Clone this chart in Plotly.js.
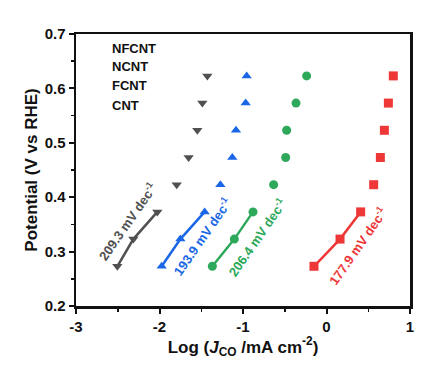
<!DOCTYPE html>
<html>
<head>
<meta charset="utf-8">
<script src="https://cdn.plot.ly/plotly-3.0.1.min.js"></script>
<style>html,body{margin:0;padding:0;background:#fff;}#chart{width:447px;height:370px;}</style>
</head>
<body>
<div id="chart"></div>
<script>
const potential = [0.273, 0.323, 0.373, 0.423, 0.473, 0.523, 0.573, 0.623];
const seriesNames = ["CNT", "FCNT", "NCNT", "NFCNT"];
const logJ_CNT   = [-2.505, -2.313, -2.026, -1.794, -1.651, -1.547, -1.487, -1.427];
const logJ_FCNT  = [-1.974, -1.750, -1.459, -1.271, -1.128, -1.084, -0.968, -0.956];
const logJ_NCNT  = [-1.367, -1.104, -0.880, -0.633, -0.489, -0.477, -0.365, -0.238];
const logJ_NFCNT = [-0.150, 0.162, 0.409, 0.565, 0.645, 0.693, 0.741, 0.800];
const tafelSlopes = ["209.3", "193.9", "206.4", "177.9"];
const legendLabels = ["NFCNT", "NCNT", "FCNT", "CNT"];
const fitPoints = 3;

const colors = ["#505050", "#1a66e6", "#2ea85a", "#ee3838"];
const symbols = ["triangle-down", "triangle-up", "circle", "square"];
const xs = [logJ_CNT, logJ_FCNT, logJ_NCNT, logJ_NFCNT];
const labelPos = [[-2.393, 0.355], [-1.495, 0.327], [-0.829, 0.326], [0.369, 0.311]];

const traces = [];
xs.forEach((x, i) => {
  traces.push({
    x: x.slice(0, fitPoints), y: potential.slice(0, fitPoints),
    mode: "lines", line: {color: colors[i], width: 2.5},
    showlegend: false, hoverinfo: "skip"
  });
  traces.push({
    x: x, y: potential, mode: "markers", name: seriesNames[i],
    marker: {symbol: symbols[i], color: colors[i], size: 9},
    showlegend: false
  });
});

const annotations = [];
tafelSlopes.forEach((s, i) => {
  annotations.push({
    x: labelPos[i][0], y: labelPos[i][1], xref: "x", yref: "y",
    text: "<b>" + s + " mV dec<sup>-1</sup></b>", showarrow: false, textangle: -55,
    font: {family: "Arial, Liberation Sans, sans-serif", size: 13, color: colors[i]}
  });
});
const legY = [0.674, 0.640, 0.605, 0.569];
legendLabels.forEach((t, i) => {
  annotations.push({
    x: -2.59, y: legY[i], xref: "x", yref: "y", xanchor: "left",
    text: "<b>" + t + "</b>", showarrow: false,
    font: {family: "Arial, Liberation Sans, sans-serif", size: 13, color: "#111"}
  });
});

const layout = {
  width: 447, height: 370,
  margin: {l: 76, r: 37, t: 34, b: 64},
  paper_bgcolor: "#fff", plot_bgcolor: "#fff",
  showlegend: false,
  font: {family: "Arial, Liberation Sans, sans-serif", color: "#111"},
  xaxis: {
    range: [-3, 1], tickvals: [-3, -2, -1, 0, 1], ticktext: ["-3", "-2", "-1", "0", "1"],
    ticks: "outside", ticklen: 5, tickwidth: 2, tickcolor: "#111",
    minor: {dtick: 0.5, ticks: "outside", ticklen: 3, tickwidth: 1.5, tickcolor: "#111"},
    showline: true, linewidth: 2.5, linecolor: "#111", mirror: true,
    showgrid: false, zeroline: false,
    tickfont: {size: 15, weight: "bold"},
    title: {text: "Log (<i>J</i><sub>CO</sub> /mA cm<sup>-2</sup>)", font: {size: 17, weight: "bold"}, standoff: 3}
  },
  yaxis: {
    range: [0.2, 0.7], tickvals: [0.2, 0.3, 0.4, 0.5, 0.6, 0.7],
    ticktext: ["0.2", "0.3", "0.4", "0.5", "0.6", "0.7"],
    ticks: "outside", ticklen: 5, tickwidth: 2, tickcolor: "#111",
    minor: {dtick: 0.05, ticks: "outside", ticklen: 3, tickwidth: 1.5, tickcolor: "#111"},
    showline: true, linewidth: 2.5, linecolor: "#111", mirror: true,
    showgrid: false, zeroline: false,
    tickfont: {size: 15, weight: "bold"},
    title: {text: "Potential (V vs RHE)", font: {size: 17, weight: "bold"}, standoff: 3}
  },
  annotations: annotations
};

Plotly.newPlot("chart", traces, layout, {displayModeBar: false, staticPlot: true});
</script>
</body>
</html>
